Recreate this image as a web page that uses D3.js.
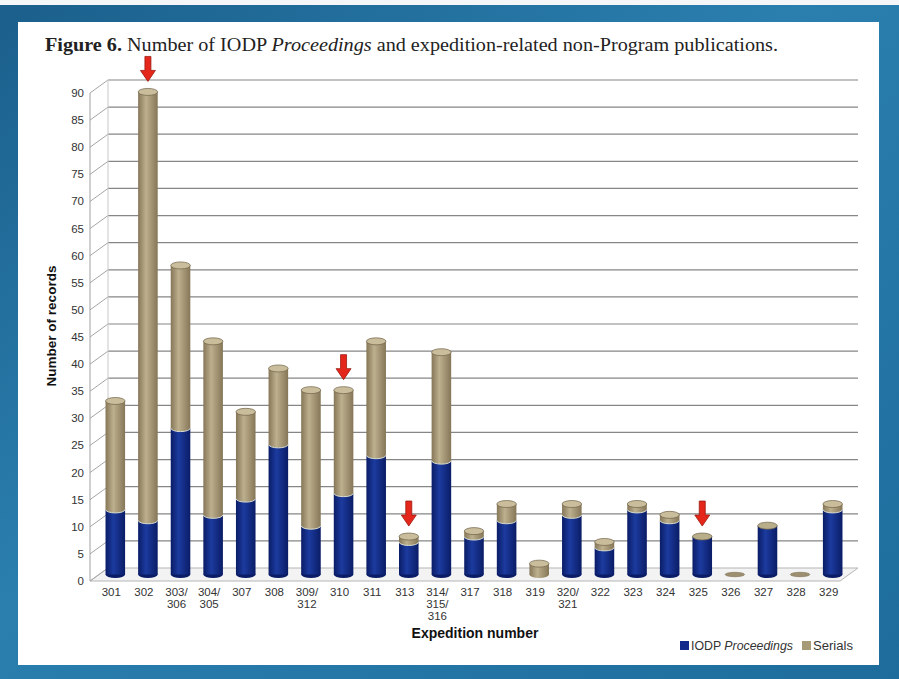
<!DOCTYPE html>
<html>
<head>
<meta charset="utf-8">
<script src="https://cdn.jsdelivr.net/npm/d3@7"></script>
<style>
  body { margin: 0; background: #fff; }
  svg { display: block; }
</style>
</head>
<body>
<svg id="chart" width="899" height="679"></svg>
<script>
// expedition categories (multi-line labels split on "\n")
const expeditions = [
  "301", "302", "303/\n306", "304/\n305", "307", "308", "309/\n312", "310", "311",
  "313", "314/\n315/\n316", "317", "318", "319", "320/\n321", "322", "323", "324",
  "325", "326", "327", "328", "329"
];

// IODP Proceedings records per expedition
const proceedings = [12, 10, 27, 11, 14, 24, 9, 15, 22, 6, 21, 7, 10, 0, 11, 5, 12, 10, 7, 0, 9, 0, 12];

// Serials records per expedition
const serials = [20, 79, 30, 32, 16, 14, 25, 19, 21, 1, 20, 1, 3, 2, 2, 1, 1, 1, 0, 0, 0, 0, 1];

// expeditions flagged with red arrows
const flagged = ["302", "310", "313", "325"];

const yTicks = d3.range(0, 91, 5);

const svg = d3.select('#chart');
const W = 899, H = 679;

// ---- background frame ----
const defs = svg.append('defs');
const bgGrad = defs.append('linearGradient').attr('id', 'bgGrad')
  .attr('x1', 0).attr('y1', 0).attr('x2', 1).attr('y2', 1);
bgGrad.append('stop').attr('offset', '0%').attr('stop-color', '#1b5f8c');
bgGrad.append('stop').attr('offset', '45%').attr('stop-color', '#2a7fae');
bgGrad.append('stop').attr('offset', '100%').attr('stop-color', '#1d6c9c');

svg.append('rect').attr('width', W).attr('height', H).attr('fill', 'url(#bgGrad)');
svg.append('rect').attr('width', W).attr('height', 5).attr('fill', '#f4f6f8');
svg.append('rect').attr('x', 18).attr('y', 22).attr('width', 861).attr('height', 643).attr('fill', '#ffffff');

// ---- title ----
const title = svg.append('text')
  .attr('x', 45).attr('y', 51)
  .attr('font-family', '"Liberation Serif", "DejaVu Serif", serif')
  .attr('font-size', 18.5)
  .attr('fill', '#222')
  .attr('textLength', 733)
  .attr('lengthAdjust', 'spacingAndGlyphs');
title.append('tspan').attr('font-weight', 'bold').text('Figure 6.');
title.append('tspan').text(' Number of IODP ');
title.append('tspan').attr('font-style', 'italic').text('Proceedings');
title.append('tspan').text(' and expedition-related non-Program publications.');

// ---- scales ----
const dx = 18, dy = 13;              // depth offset of the back wall
const yFront = d3.scaleLinear().domain([0, 90]).range([581, 93]);
const yBar = v => yFront(v) - dy / 2;
const x = d3.scaleBand().domain(expeditions).range([90 + dx / 2, 840 + dx / 2]).paddingInner(0.4).paddingOuter(0.2);
const bw = x.bandwidth();
const x0 = 90, x1 = 840;

const g = svg.append('g');

// floor
g.append('path')
  .attr('d', `M${x0},${yFront(0)} L${x1},${yFront(0)} L${x1 + dx},${yFront(0) - dy} L${x0 + dx},${yFront(0) - dy} Z`)
  .attr('fill', '#f3f3f3').attr('stroke', '#b5b5b5').attr('stroke-width', 1);

// back-wall gridlines and diagonal ticks
yTicks.forEach(v => {
  const yf = yFront(v), yb = yf - dy;
  if (v > 0) {
    g.append('line').attr('x1', x0 + dx).attr('x2', x1 + dx).attr('y1', yb).attr('y2', yb)
      .attr('stroke', '#868686').attr('stroke-width', 1.2);
  }
  g.append('line').attr('x1', x0).attr('x2', x0 + dx).attr('y1', yf).attr('y2', yb)
    .attr('stroke', '#a5a5a5').attr('stroke-width', 1);
  g.append('text').attr('x', 84).attr('y', yf + 4)
    .attr('text-anchor', 'end')
    .attr('font-family', 'Liberation Sans, Arial, sans-serif')
    .attr('font-size', 11.5).attr('fill', '#333')
    .text(v);
});

// wall edges
g.append('line').attr('x1', x0).attr('x2', x0).attr('y1', yFront(0)).attr('y2', yFront(90))
  .attr('stroke', '#a0a0a0');
g.append('line').attr('x1', x0 + dx).attr('x2', x0 + dx).attr('y1', yFront(0) - dy).attr('y2', yFront(90) - dy)
  .attr('stroke', '#c8c8c8');

// ---- bar gradients ----
function cylGrad(id, edge, mid) {
  const gr = defs.append('linearGradient').attr('id', id).attr('x1', 0).attr('x2', 1).attr('y1', 0).attr('y2', 0);
  gr.append('stop').attr('offset', '0%').attr('stop-color', edge);
  gr.append('stop').attr('offset', '40%').attr('stop-color', mid);
  gr.append('stop').attr('offset', '100%').attr('stop-color', edge);
}
cylGrad('blueGrad', '#0a1c66', '#1c3b9f');
cylGrad('tanGrad', '#857657', '#bdb08e');

const ry = 3.5;
const bars = g.selectAll('g.bar')
  .data(expeditions.map((e, i) => ({ e, p: proceedings[i], s: serials[i] })))
  .enter().append('g').attr('class', 'bar');

bars.each(function(d) {
  const sel = d3.select(this);
  const cx = x(d.e) + bw / 2;
  const yb = yBar(0), yp = yBar(d.p), yt = yBar(d.p + d.s);
  if (d.p + d.s === 0) {
    sel.append('ellipse').attr('cx', cx).attr('cy', yb).attr('rx', bw / 2).attr('ry', 2.2)
      .attr('fill', '#9d9070').attr('stroke', '#7a6d50').attr('stroke-width', 0.6);
    return;
  }
  if (d.p > 0) {
    sel.append('ellipse').attr('cx', cx).attr('cy', yb).attr('rx', bw / 2).attr('ry', ry).attr('fill', '#0a1c66');
    sel.append('rect').attr('x', cx - bw / 2).attr('y', yp).attr('width', bw).attr('height', yb - yp)
      .attr('fill', 'url(#blueGrad)');
  }
  if (d.s > 0) {
    sel.append('ellipse').attr('cx', cx).attr('cy', yp).attr('rx', bw / 2).attr('ry', ry)
      .attr('fill', 'url(#tanGrad)');
    sel.append('rect').attr('x', cx - bw / 2).attr('y', yt).attr('width', bw).attr('height', yp - yt)
      .attr('fill', 'url(#tanGrad)');
    if (d.p > 0) {
      sel.append('path')
        .attr('d', `M${cx - bw / 2},${yp} A${bw / 2},${ry} 0 0 0 ${cx + bw / 2},${yp}`)
        .attr('fill', 'none').attr('stroke', '#d8dccf').attr('stroke-width', 1);
    }
  }
  sel.append('ellipse').attr('cx', cx).attr('cy', yt).attr('rx', bw / 2).attr('ry', ry)
    .attr('fill', d.s > 0 ? '#cabd9b' : '#b9ae8a')
    .attr('stroke', '#6f6248').attr('stroke-width', 0.7);
});

// ---- red arrows ----
const arrowShape = 'M-3,-25 L3,-25 L3,-11 L7.5,-11 L0,0 L-7.5,-11 L-3,-11 Z';
flagged.forEach(f => {
  const i = expeditions.indexOf(f);
  const cx = x(f) + bw / 2;
  const top = yBar(proceedings[i] + serials[i]) - ry;
  svg.append('path')
    .attr('d', arrowShape)
    .attr('transform', `translate(${cx},${top - 7})`)
    .attr('fill', '#e5261a').attr('stroke', '#9a1a10').attr('stroke-width', 0.8);
});

// ---- x tick labels ----
expeditions.forEach(e => {
  const lines = e.split('\n');
  const t = svg.append('text')
    .attr('x', x(e) + bw / 2 - 4).attr('y', 596)
    .attr('text-anchor', 'middle')
    .attr('font-family', 'Liberation Sans, Arial, sans-serif')
    .attr('font-size', 11.5).attr('fill', '#333');
  lines.forEach((l, k) => {
    t.append('tspan').attr('x', x(e) + bw / 2 - 4).attr('dy', k === 0 ? 0 : 12).text(l);
  });
});

// ---- axis titles ----
svg.append('text')
  .attr('transform', 'translate(56,326) rotate(-90)')
  .attr('text-anchor', 'middle')
  .attr('font-family', 'Liberation Sans, Arial, sans-serif')
  .attr('font-weight', 'bold').attr('font-size', 13.5).attr('fill', '#111')
  .text('Number of records');

svg.append('text')
  .attr('x', 475).attr('y', 638)
  .attr('text-anchor', 'middle')
  .attr('font-family', 'Liberation Sans, Arial, sans-serif')
  .attr('font-weight', 'bold').attr('font-size', 14).attr('fill', '#111')
  .text('Expedition number');

// ---- legend ----
const legend = svg.append('g').attr('font-family', 'Liberation Sans, Arial, sans-serif')
  .attr('font-size', 12).attr('fill', '#333');
legend.append('rect').attr('x', 680).attr('y', 641).attr('width', 9).attr('height', 9).attr('fill', '#12288a');
const lt = legend.append('text').attr('x', 691).attr('y', 650)
  .attr('textLength', 102).attr('lengthAdjust', 'spacingAndGlyphs');
lt.append('tspan').text('IODP ');
lt.append('tspan').attr('font-style', 'italic').text('Proceedings');
legend.append('rect').attr('x', 802).attr('y', 641).attr('width', 9).attr('height', 9).attr('fill', '#a79a77');
legend.append('text').attr('x', 813).attr('y', 650).attr('textLength', 40)
  .attr('lengthAdjust', 'spacingAndGlyphs').text('Serials');
</script>
</body>
</html>
